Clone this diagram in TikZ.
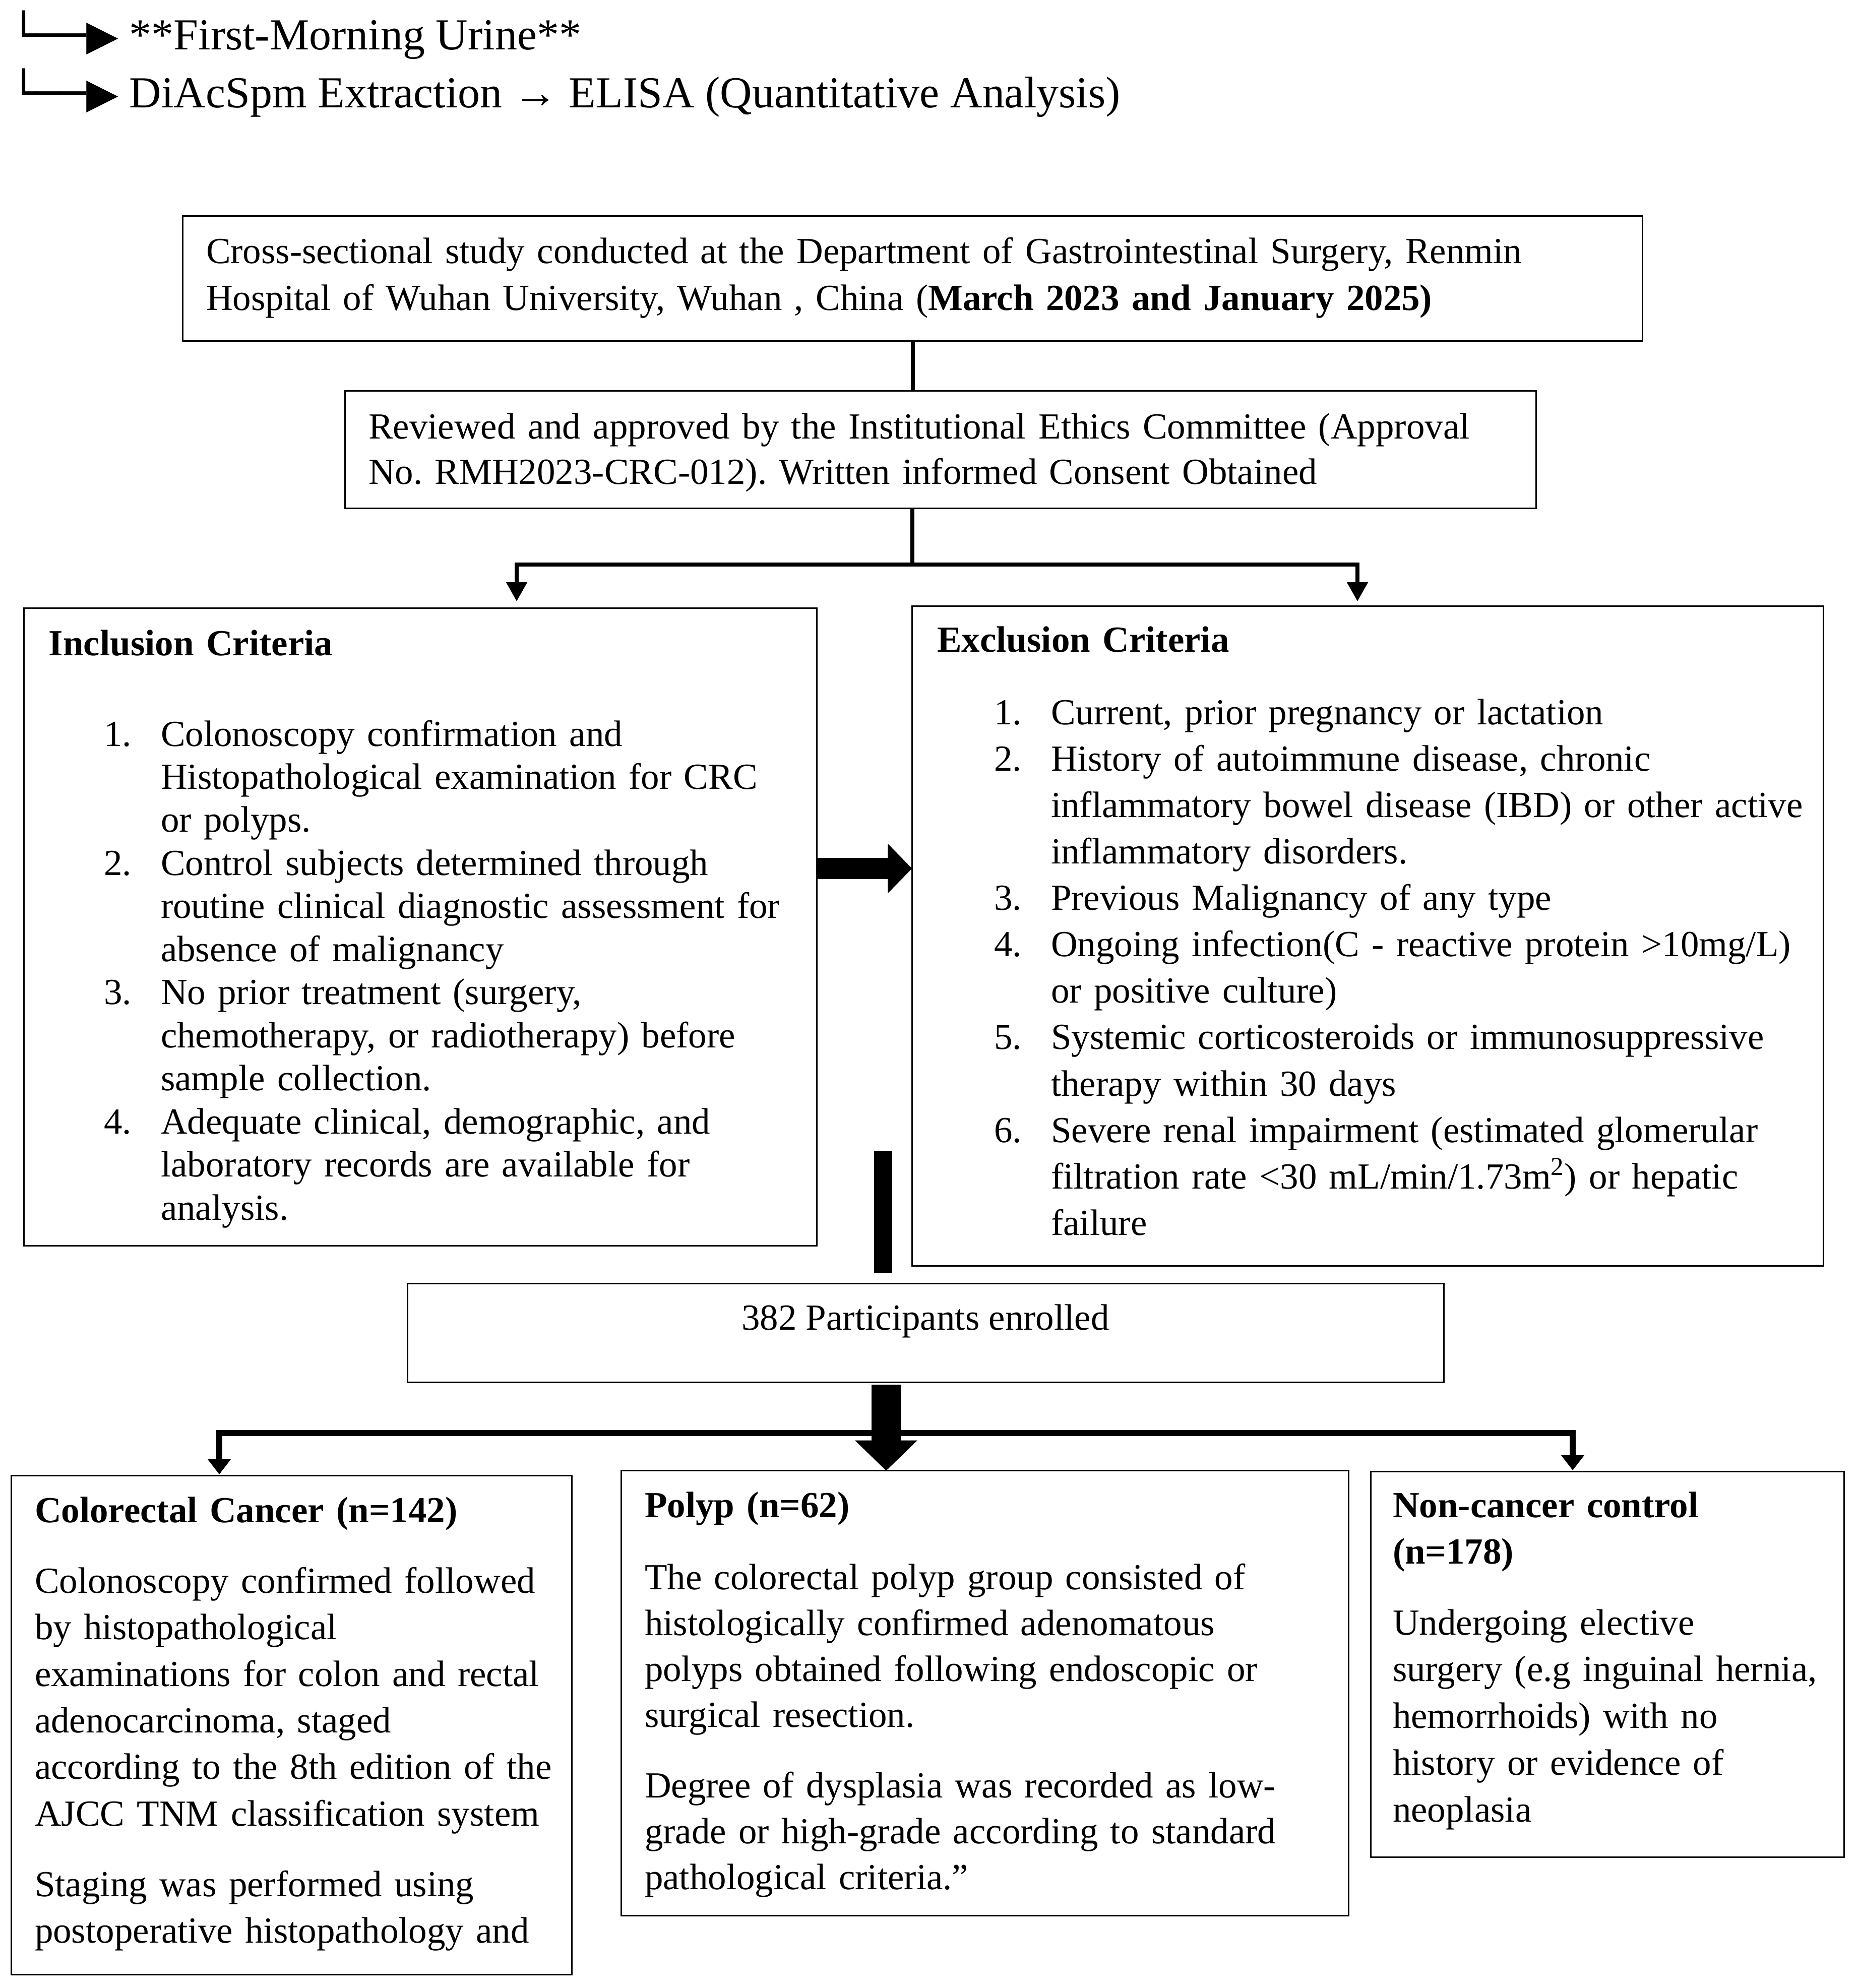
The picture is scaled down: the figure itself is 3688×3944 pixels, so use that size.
\documentclass[tikz,border=0pt]{standalone}
\usepackage{fontspec}
\setmainfont{Liberation Serif}
\newfontfamily\symfnt{DejaVu Sans}
\usetikzlibrary{arrows.meta,calc}
\newcommand\fsz[1]{\fontsize{20.75pt}{#1}\selectfont}
\newcommand\Litm[1]{\makebox[1.13cm][l]{#1}}
\newcommand\Lind{\hspace*{1.13cm}}
\frenchspacing
\begin{document}
\begin{tikzpicture}[x=0.01cm,y=-0.01cm,
  box/.style={draw=black, line width=0.03cm, inner sep=0, outer sep=0},
  txt/.style={anchor=base west, inner sep=0, outer sep=0, align=left},
  conn/.style={line width=0.08cm, line cap=butt},
  smalltip/.style={-{Triangle[length=0.38cm,width=0.40cm]}},
  lowtip/.style={-{Triangle[length=0.30cm,width=0.44cm]}}]
\useasboundingbox (0,0) rectangle (3688,3944);

% top lines
\node[txt, font=\fontsize{25pt}{30pt}\selectfont] (top1) at (22,98) {{\symfnt\fontsize{23.5pt}{30pt}\selectfont └──▶}\hspace{0.22cm}**First-Morning Urine**};
\node[txt, font=\fontsize{25pt}{30pt}\selectfont] (top2) at (22,213) {{\symfnt\fontsize{23.5pt}{30pt}\selectfont └──▶}\hspace{0.22cm}DiAcSpm Extraction → ELISA (Quantitative Analysis)};

% boxes
\node[box, minimum width=28.95cm, minimum height=2.47cm] (b1) at (1810.5,552.5) {};
\node[box, minimum width=23.62cm, minimum height=2.32cm] (b2) at (1866,892) {};
\node[box, minimum width=15.72cm, minimum height=12.64cm] (incl) at (834,1839) {};
\node[box, minimum width=18.07cm, minimum height=13.08cm] (excl) at (2713.5,1857) {};
\node[box, minimum width=20.55cm, minimum height=1.95cm] (part) at (1836.5,2644.5) {};
\node[box, minimum width=11.11cm, minimum height=9.89cm] (crc) at (578.5,3422.5) {};
\node[box, minimum width=14.42cm, minimum height=8.82cm] (polyp) at (1954,3359) {};
\node[box, minimum width=9.38cm, minimum height=7.64cm] (non) at (3189,3302) {};

% texts
\node[txt, text width=28.3cm, font=\fsz{26.7pt}] (t1) at (409,522)
 {Cross-sectional study conducted at the Department of Gastrointestinal Surgery, Renmin\\
  Hospital of Wuhan University, Wuhan , China (\textbf{March 2023 and January 2025)}};
\node[txt, text width=23cm, font=\fsz{25.6pt}] (t2) at (731,870)
 {Reviewed and approved by the Institutional Ethics Committee (Approval\\
  No. RMH2023-CRC-012). Written informed Consent Obtained};

\node[txt, text width=14cm, font=\fsz{24.3pt}\bfseries] (inT) at (97,1300) {Inclusion Criteria};
\node[txt, text width=14cm, font=\fsz{24.3pt}] (inL) at (206,1480)
 {\Litm{1.}Colonoscopy confirmation and\\
  \Lind Histopathological examination for CRC\\
  \Lind or polyps.\\
  \Litm{2.}Control subjects determined through\\
  \Lind routine clinical diagnostic assessment for\\
  \Lind absence of malignancy\\
  \Litm{3.}No prior treatment (surgery,\\
  \Lind chemotherapy, or radiotherapy) before\\
  \Lind sample collection.\\
  \Litm{4.}Adequate clinical, demographic, and\\
  \Lind laboratory records are available for\\
  \Lind analysis.};

\node[txt, text width=17cm, font=\fsz{26.2pt}\bfseries] (exT) at (1859,1293) {Exclusion Criteria};
\node[txt, text width=16.3cm, font=\fsz{26.2pt}] (exL) at (1972,1437)
 {\Litm{1.}Current, prior pregnancy or lactation\\
  \Litm{2.}History of autoimmune disease, chronic\\
  \Lind inflammatory bowel disease (IBD) or other active\\
  \Lind inflammatory disorders.\\
  \Litm{3.}Previous Malignancy of any type\\
  \Litm{4.}Ongoing infection(C - reactive protein >10mg/L)\\
  \Lind or positive culture)\\
  \Litm{5.}Systemic corticosteroids or immunosuppressive\\
  \Lind therapy within 30 days\\
  \Litm{6.}Severe renal impairment (estimated glomerular\\
  \Lind filtration rate <30 mL/min/1.73m\textsuperscript{2}) or hepatic\\
  \Lind failure};

\node[anchor=base, inner sep=0, font=\fsz{25pt}] (pT) at (1836,2638) {382 Participants enrolled};

\node[txt, text width=10.5cm, font=\fsz{26.3pt}\bfseries] (crcT) at (69,3020) {Colorectal Cancer (n=142)};
\node[txt, text width=10.5cm, font=\fsz{26.3pt}] (crcA) at (69,3160)
 {Colonoscopy confirmed followed\\
  by histopathological\\
  examinations for colon and rectal\\
  adenocarcinoma, staged\\
  according to the 8th edition of the\\
  AJCC TNM classification system};
\node[txt, text width=10.5cm, font=\fsz{26.3pt}] (crcB) at (69,3762)
 {Staging was performed using\\
  postoperative histopathology and};

\node[txt, text width=13.6cm, font=\fsz{25.9pt}\bfseries] (polT) at (1279,3010) {Polyp (n=62)};
\node[txt, text width=13.6cm, font=\fsz{25.9pt}] (polA) at (1279,3153)
 {The colorectal polyp group consisted of\\
  histologically confirmed adenomatous\\
  polyps obtained following endoscopic or\\
  surgical resection.};
\node[txt, text width=13.6cm, font=\fsz{25.9pt}] (polB) at (1279,3566)
 {Degree of dysplasia was recorded as low-\\
  grade or high-grade according to standard\\
  pathological criteria.”};

\node[txt, text width=8.8cm, font=\fsz{26.4pt}\bfseries] (nonT) at (2763,3010) {Non-cancer control\\(n=178)};
\node[txt, text width=8.8cm, font=\fsz{26.4pt}] (nonA) at (2763,3243)
 {Undergoing elective\\
  surgery (e.g inguinal hernia,\\
  hemorrhoids) with no\\
  history or evidence of\\
  neoplasia};

% connectors
\draw[conn] (b1.south) -- (b2.north -| b1.south);
\coordinate (j1) at (1810,1120);
\coordinate (aIn) at (1025,1193);
\coordinate (aEx) at (2693,1193);
\draw[conn] (b2.south -| j1) -- (j1);
\draw[conn, smalltip] (j1) -| (aIn);
\draw[conn, smalltip] (j1) -| (aEx);

\coordinate (ay) at (0,1723);
\draw[line width=0.42cm, -{Triangle[length=0.48cm,width=0.95cm]}] (incl.east |- ay) -- (excl.west |- ay);

\coordinate (barTop) at (1752,2283);
\draw[line width=0.36cm, shorten >=0.21cm] (barTop) -- (barTop |- part.north);

\coordinate (j2) at (1758,2843);
\draw[line width=0.59cm, -{Triangle[length=0.60cm,width=1.20cm]}, shorten <=0.05cm] (part.south -| j2) -- (polyp.north -| j2);
\coordinate (aC) at (435,2925);
\coordinate (aN) at (3120,2917);
\draw[line width=0.12cm, lowtip] (j2) -| (aC);
\draw[line width=0.12cm, lowtip] (j2) -| (aN);
\end{tikzpicture}
\end{document}
